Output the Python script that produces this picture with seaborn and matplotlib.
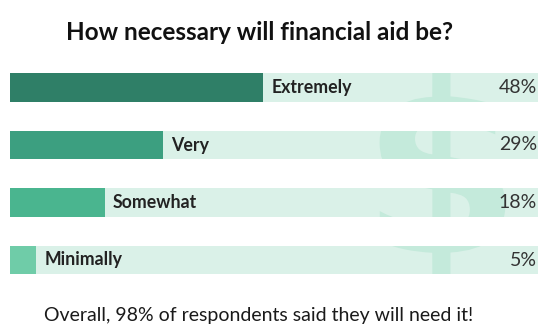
import matplotlib
matplotlib.use("Agg")
import matplotlib.pyplot as plt
import seaborn as sns
import pandas as pd
from matplotlib.textpath import TextPath
from matplotlib.patches import PathPatch
from matplotlib.transforms import Affine2D
from matplotlib.font_manager import FontProperties

categories = ["Extremely", "Very", "Somewhat", "Minimally"]
values = [48, 29, 18, 5]
pct_labels = ["48%", "29%", "18%", "5%"]
title = "How necessary will financial aid be?"
footer = "Overall, 98% of respondents said they will need it!"

fill_colors = ["#2f7f67", "#3c9f80", "#4ab58f", "#6fcca8"]
track_color = "#daf1e8"
dollar_color = "#c4eadb"

sns.set_theme(style="white")
plt.rcParams["font.family"] = ["Lato", "DejaVu Sans"]

W, H = 550, 335
fig = plt.figure(figsize=(W / 100, H / 100), dpi=100)
fig.patch.set_facecolor("white")
ax = fig.add_axes([10 / W, (H - 288.75) / H, 528 / W, 230 / H])

df = pd.DataFrame({"category": categories, "value": values,
                   "track": [100] * len(categories)})

sns.barplot(data=df, x="track", y="category", color=track_color,
            width=0.5, ax=ax, saturation=1, orient="h")
n_track = len(ax.patches)
sns.barplot(data=df, x="value", y="category", hue="category",
            palette=fill_colors, width=0.5, ax=ax, saturation=1,
            orient="h", legend=False)

track_patches = list(ax.patches[:n_track])
fill_patches = list(ax.patches[n_track:])
for p in track_patches:
    p.set_zorder(1)
    p.set_linewidth(0)
for p in fill_patches:
    p.set_zorder(3)
    p.set_linewidth(0)

ax.set_xlim(0, 100)
ax.set_ylim(len(categories) - 0.5, -0.5)
ax.axis("off")

# watermark dollar sign, visible only inside the tracks
tp = TextPath((0, 0), "$", size=1,
              prop=FontProperties(family="DejaVu Sans", weight="bold"))
ext = tp.get_extents()
X0, X1 = 70.0, 93.8      # horizontal extent (data units)
Ytop, Ybot = -0.31, 3.49  # vertical extent (data units, inverted axis)
sx = (X1 - X0) / (ext.x1 - ext.x0)
sy = (Ytop - Ybot) / (ext.y1 - ext.y0)
tr = Affine2D().translate(-ext.x0, -ext.y0).scale(sx, sy).translate(X0, Ybot)
dollar_path = tr.transform_path(tp)
for p in track_patches:
    dp = PathPatch(dollar_path, transform=ax.transData, facecolor=dollar_color,
                   linewidth=0, zorder=2)
    ax.add_patch(dp)
    dp.set_clip_path(p)

for i, (cat, v, lab) in enumerate(zip(categories, values, pct_labels)):
    ax.text(v + 1.5, i, cat, ha="left", va="center", fontsize=12.8,
            fontweight="bold", color="#222222", zorder=4)
    ax.text(99.8, i, lab, ha="right", va="center", fontsize=14,
            fontweight="normal", color="#333333", zorder=4)

fig.text(260 / W, 1 - 33 / H, title, ha="center", va="center",
         fontsize=17.5, fontweight="bold", color="#111111")
fig.text(259 / W, 1 - 315 / H, footer, ha="center", va="center",
         fontsize=14, color="#1a1a1a")

fig.savefig("out.png", dpi=100, facecolor="white")
